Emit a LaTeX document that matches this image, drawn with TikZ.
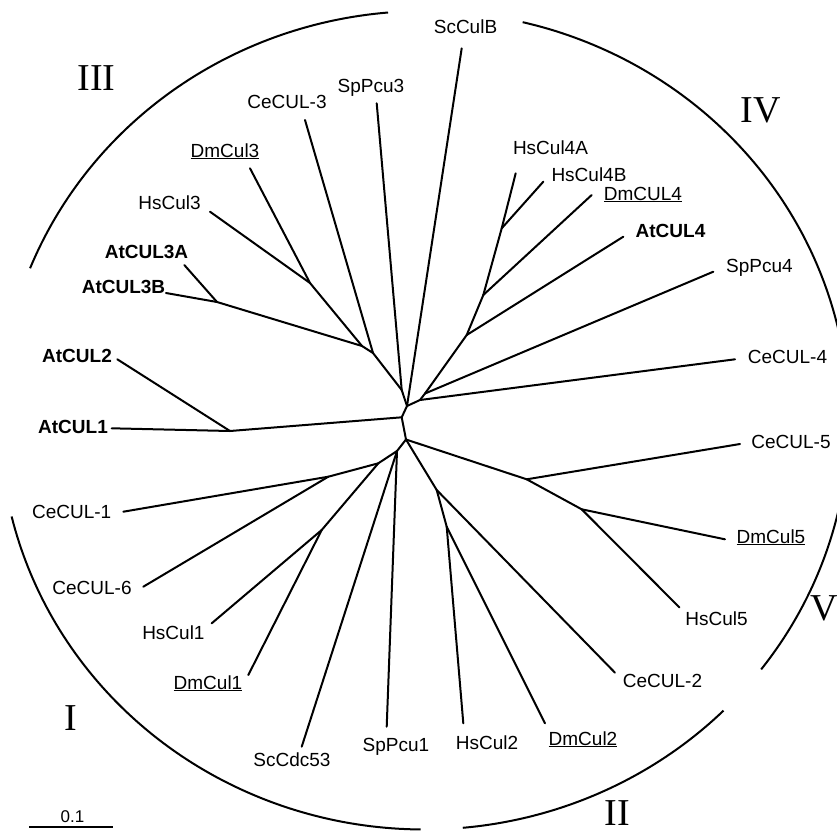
\documentclass[tikz,border=0pt]{standalone}
\usepackage{fontspec}
\setmainfont{Liberation Sans}
\newfontfamily\romanfam{Liberation Serif}
\begin{document}
\begin{tikzpicture}[x=1pt,y=-1pt]
\tikzset{
  br/.style={line width=2pt, line cap=round, line join=round},
  arcline/.style={line width=2pt},
  lab/.style={anchor=base, inner sep=0pt, font=\fontsize{19}{22}\selectfont},
  blab/.style={anchor=base, inner sep=0pt, font=\fontsize{19}{22}\selectfont\bfseries},
  roman/.style={anchor=base, inner sep=0pt, font=\fontsize{38}{44}\selectfont\romanfam},
  scalelab/.style={anchor=base, inner sep=0pt, font=\fontsize{17}{20}\selectfont}
}
\useasboundingbox (0,0) rectangle (837,830);

% ---------- internal nodes ----------
\coordinate (A) at (407,406);
\coordinate (S1) at (401.7,390);
\coordinate (S2) at (373,353);
\coordinate (S3) at (362,346);
\coordinate (T) at (310,283);
\coordinate (U) at (217,302);
\coordinate (D) at (420,400);
\coordinate (E) at (425,393.5);
\coordinate (F) at (466.7,335);
\coordinate (G) at (483.3,295);
\coordinate (H) at (501.7,228.3);
\coordinate (B) at (401.7,417.3);
\coordinate (Q) at (230,431);
\coordinate (C) at (406,439.5);
\coordinate (M) at (526.7,479.3);
\coordinate (N) at (581.7,509.3);
\coordinate (O) at (436.7,490);
\coordinate (P) at (446.7,526.7);
\coordinate (I) at (397,451);
\coordinate (J) at (378.3,463.3);
\coordinate (K) at (328.3,476.7);
\coordinate (L) at (321.7,530);

% ---------- tips ----------
\coordinate (tScCulB) at (461.7,48.3);
\coordinate (tSpPcu3) at (376.7,103.3);
\coordinate (tCeCUL3) at (305,120);
\coordinate (tDmCul3) at (250,168.3);
\coordinate (tHsCul3) at (210,211.7);
\coordinate (tAtCUL3A) at (184.3,265);
\coordinate (tAtCUL3B) at (166,293);
\coordinate (tAtCUL2) at (117.3,359.3);
\coordinate (tAtCUL1) at (111.7,428.3);
\coordinate (tCeCUL1) at (123.3,511.7);
\coordinate (tCeCUL6) at (143.3,586.7);
\coordinate (tHsCul1) at (211.7,623.3);
\coordinate (tDmCul1) at (248.3,675);
\coordinate (tScCdc53) at (301.7,746.7);
\coordinate (tSpPcu1) at (386.7,726.7);
\coordinate (tHsCul2) at (463.3,723.3);
\coordinate (tDmCul2) at (545,723.3);
\coordinate (tCeCUL2) at (615,672.7);
\coordinate (tHsCul5) at (679.3,607.3);
\coordinate (tDmCul5) at (725,539.3);
\coordinate (tCeCUL5) at (740,444);
\coordinate (tCeCUL4) at (735,359.3);
\coordinate (tSpPcu4) at (713.3,271.7);
\coordinate (tAtCUL4) at (623.3,236.7);
\coordinate (tDmCUL4) at (591.7,195);
\coordinate (tHsCul4B) at (543.3,181.7);
\coordinate (tHsCul4A) at (515.7,173.3);

% ---------- branches ----------
\draw[br] (A) -- (B);
\draw[br] (A) -- (tScCulB);
\draw[br] (A) -- (S1);
\draw[br] (A) -- (D);
\draw[br] (S1) -- (tSpPcu3);
\draw[br] (S1) -- (S2);
\draw[br] (S2) -- (tCeCUL3);
\draw[br] (S2) -- (S3);
\draw[br] (S3) -- (U);
\draw[br] (S3) -- (T);
\draw[br] (U) -- (tAtCUL3A);
\draw[br] (U) -- (tAtCUL3B);
\draw[br] (T) -- (tHsCul3);
\draw[br] (T) -- (tDmCul3);
\draw[br] (D) -- (tCeCUL4);
\draw[br] (D) -- (E);
\draw[br] (E) -- (tSpPcu4);
\draw[br] (E) -- (F);
\draw[br] (F) -- (tAtCUL4);
\draw[br] (F) -- (G);
\draw[br] (G) -- (tDmCUL4);
\draw[br] (G) -- (H);
\draw[br] (H) -- (tHsCul4A);
\draw[br] (H) -- (tHsCul4B);
\draw[br] (B) -- (Q);
\draw[br] (B) -- (C);
\draw[br] (Q) -- (tAtCUL1);
\draw[br] (Q) -- (tAtCUL2);
\draw[br] (C) -- (M);
\draw[br] (C) -- (O);
\draw[br] (C) -- (I);
\draw[br] (M) -- (tCeCUL5);
\draw[br] (M) -- (N);
\draw[br] (N) -- (tDmCul5);
\draw[br] (N) -- (tHsCul5);
\draw[br] (O) -- (tCeCUL2);
\draw[br] (O) -- (P);
\draw[br] (P) -- (tHsCul2);
\draw[br] (P) -- (tDmCul2);
\draw[br] (I) -- (J);
\draw[br] (I) -- (tSpPcu1);
\draw[br] (I) -- (tScCdc53);
\draw[br] (J) -- (K);
\draw[br] (J) -- (L);
\draw[br] (K) -- (tCeCUL1);
\draw[br] (K) -- (tCeCUL6);
\draw[br] (L) -- (tHsCul1);
\draw[br] (L) -- (tDmCul1);

% ---------- labels ----------
\node[lab] (lScCulB) at (465.5,33) {ScCulB};
\node[lab] (lSpPcu3) at (371,92) {SpPcu3};
\node[lab] (lCeCUL3) at (287,108.6) {CeCUL-3};
\node[lab] (lDmCul3) at (225,157) {\underline{DmCul3}};
\node[lab] (lHsCul3) at (169.5,209) {HsCul3};
\node[blab] (lAtCUL3A) at (146.5,258) {AtCUL3A};
\node[blab] (lAtCUL3B) at (123.5,293) {AtCUL3B};
\node[blab] (lAtCUL2) at (77,362) {AtCUL2};
\node[blab] (lAtCUL1) at (73,433) {AtCUL1};
\node[lab] (lCeCUL1) at (71.7,518) {CeCUL-1};
\node[lab] (lCeCUL6) at (92,594) {CeCUL-6};
\node[lab] (lHsCul1) at (173.4,639) {HsCul1};
\node[lab] (lDmCul1) at (208,689) {\underline{DmCul1}};
\node[lab] (lScCdc53) at (292,766) {ScCdc53};
\node[lab] (lSpPcu1) at (396,751.6) {SpPcu1};
\node[lab] (lHsCul2) at (487,749) {HsCul2};
\node[lab] (lDmCul2) at (583,745) {\underline{DmCul2}};
\node[lab] (lCeCUL2) at (662.5,687) {CeCUL-2};
\node[lab] (lHsCul5) at (716.5,625) {HsCul5};
\node[lab] (lDmCul5) at (771,543) {\underline{DmCul5}};
\node[lab] (lCeCUL5) at (791,448) {CeCUL-5};
\node[lab] (lCeCUL4) at (787.5,363) {CeCUL-4};
\node[lab] (lSpPcu4) at (759.5,272) {SpPcu4};
\node[blab] (lAtCUL4) at (670.5,237) {AtCUL4};
\node[lab] (lDmCUL4) at (643,200) {\underline{DmCUL4}};
\node[lab] (lHsCul4B) at (589,181.7) {HsCul4B};
\node[lab] (lHsCul4A) at (550.5,154) {HsCul4A};

% ---------- group numerals ----------
\node[roman] (rIII) at (96.5,90) {III};
\node[roman] (rIV) at (761,122) {IV};
\node[roman] (rV) at (824,620) {V};
\node[roman] (rII) at (617,825) {II};
\node[roman] (rI) at (71,730) {I};

% ---------- arcs (ellipse centre 424.3,420.25) ----------
\draw[arcline] plot[domain=201.8:265.1, samples=80] ({424.3+424.6*cos(\x)},{420.25+409.25*sin(\x)});
\draw[arcline] plot[domain=283.4:356, samples=80] ({424.3+424.6*cos(\x)},{420.25+409.25*sin(\x)});
\draw[arcline] plot[domain=4:37.5, samples=60] ({424.3+424.6*cos(\x)},{420.25+409.25*sin(\x)});
\draw[arcline] plot[domain=45.2:84.8, samples=60] ({424.3+424.6*cos(\x)},{420.25+409.25*sin(\x)});
\draw[arcline] plot[domain=90.5:166.4, samples=80] ({424.3+424.6*cos(\x)},{420.25+409.25*sin(\x)});

% ---------- scale bar ----------
\coordinate (sb1) at (29.3,826.7);
\coordinate (sb2) at (112.7,826.7);
\draw[line width=2pt] (sb1) -- (sb2);
\node[scalelab] (lScale) at (72.5,822) {0.1};
\end{tikzpicture}
\end{document}
